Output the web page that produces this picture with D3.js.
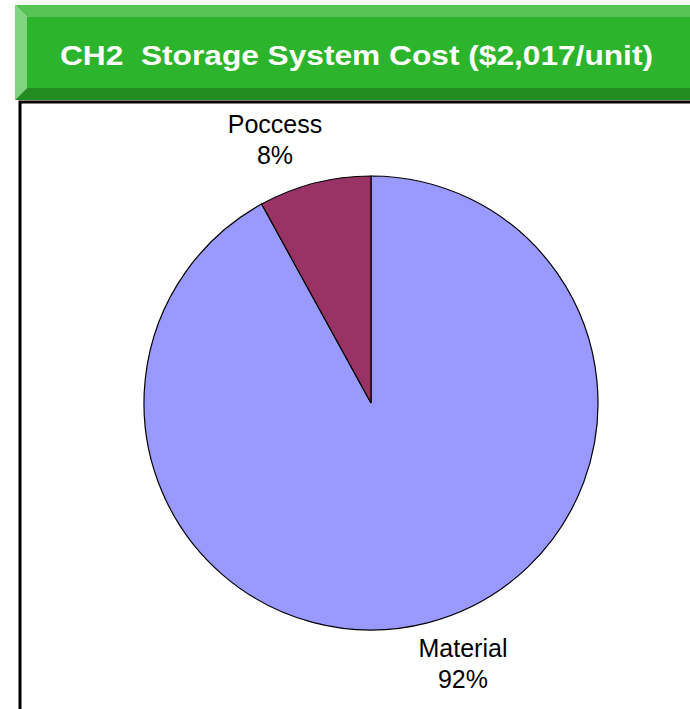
<!DOCTYPE html>
<html>
<head>
<meta charset="utf-8">
<script src="https://cdn.jsdelivr.net/npm/d3@7"></script>
<style>
  body { margin: 0; background: #fff; }
  text { font-family: "Liberation Sans", Arial, sans-serif; white-space: pre; }
</style>
</head>
<body>
<div id="chart"></div>
<script>
var categories = ["Material", "Poccess"];
var shares = [92, 8];
var sliceColors = ["#9999ff", "#993366"];
var title = "CH2  Storage System Cost ($2,017/unit)";

var width = 690, height = 709;

var svg = d3.select("#chart")
            .append("svg")
            .attr("width", width)
            .attr("height", height);

// banner with bevelled edges
var bx0 = 15, by0 = 5, bx1 = 700, by1 = 100, bev = 12;
svg.append("polygon")
    .attr("points", [[bx0,by0],[bx1,by0],[bx1,by0+bev],[bx0+bev,by0+bev]].join(" "))
    .attr("fill", "#55c455");
svg.append("polygon")
    .attr("points", [[bx0,by0],[bx0+bev,by0+bev],[bx0+bev,by1-bev],[bx0,by1]].join(" "))
    .attr("fill", "#80d480");
svg.append("polygon")
    .attr("points", [[bx0,by1],[bx0+bev,by1-bev],[bx1,by1-bev],[bx1,by1]].join(" "))
    .attr("fill", "#228b22");
svg.append("rect")
    .attr("x", bx0+bev).attr("y", by0+bev)
    .attr("width", bx1-bx0-bev).attr("height", by1-by0-2*bev)
    .attr("fill", "#2cb42c");
svg.append("text")
    .attr("x", 60)
    .attr("y", 65)
    .attr("font-size", "27px")
    .attr("font-weight", "bold")
    .attr("fill", "#fff")
    .attr("textLength", 593)
    .attr("lengthAdjust", "spacingAndGlyphs")
    .text(title);

// frame lines
svg.append("path")
    .attr("d", "M 20,709 L 20,102 L 690,102")
    .attr("fill", "none")
    .attr("stroke", "#000")
    .attr("stroke-width", 3);

// pie
var cx = 371, cy = 403, r = 227;
var data = categories.map(function(c, i) { return {name: c, value: shares[i], color: sliceColors[i]}; });

var pie = d3.pie()
    .value(function(d) { return d.value; })
    .sort(null)
    .startAngle(0)
    .endAngle(2 * Math.PI);

var arc = d3.arc().innerRadius(0).outerRadius(r);

var g = svg.append("g").attr("transform", "translate(" + cx + "," + cy + ")");

var arcs = pie(data);
g.selectAll("path")
    .data(arcs)
    .enter()
    .append("path")
    .attr("d", arc)
    .attr("fill", function(d) { return d.data.color; })
    .attr("stroke", "#000")
    .attr("stroke-width", 1.2);

// labels outside slices
var labelPos = [[463, 657], [275, 133]];
var labels = svg.selectAll("g.label")
    .data(arcs)
    .enter()
    .append("g")
    .attr("class", "label");

labels.append("text")
    .attr("x", function(d, i) { return labelPos[i][0]; })
    .attr("y", function(d, i) { return labelPos[i][1]; })
    .attr("text-anchor", "middle")
    .attr("font-size", "25px")
    .attr("fill", "#000")
    .text(function(d) { return d.data.name; });

labels.append("text")
    .attr("x", function(d, i) { return labelPos[i][0]; })
    .attr("y", function(d, i) { return labelPos[i][1] + 30.5; })
    .attr("text-anchor", "middle")
    .attr("font-size", "25px")
    .attr("fill", "#000")
    .text(function(d) { return d.data.value + "%"; });
</script>
</body>
</html>
